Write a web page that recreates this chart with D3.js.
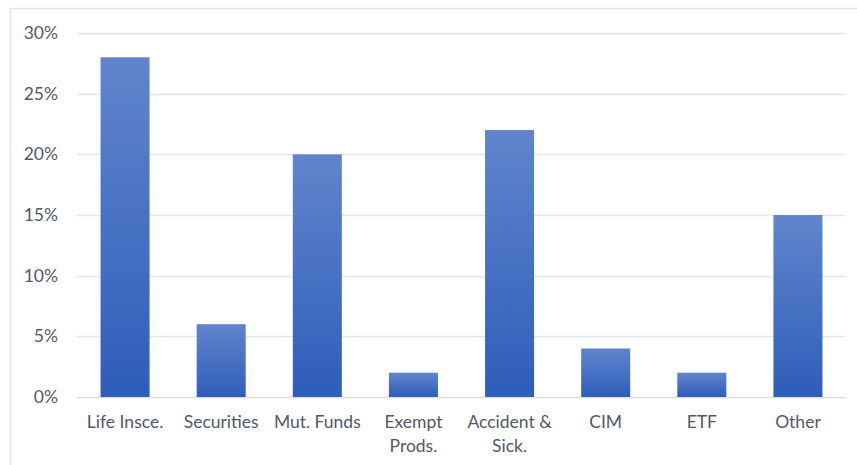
<!DOCTYPE html>
<html>
<head>
<meta charset="utf-8">
<script src="https://cdn.jsdelivr.net/npm/d3@7"></script>
<style>
  body { margin: 0; background: #fff; }
  text { font-family: Lato, "Open Sans", sans-serif; fill: #4f5a6b; }
</style>
</head>
<body>
<div class="chart"></div>
<script>
// data
const categories = ["Life Insce.", "Securities", "Mut. Funds", "Exempt Prods.",
                    "Accident & Sick.", "CIM", "ETF", "Other"];
const shares = [28, 6, 20, 2, 22, 4, 2, 15];
const yTicks = [0, 5, 10, 15, 20, 25, 30];

const W = 857, H = 465;
const margin = { top: 33, right: 11, bottom: 68, left: 77 };

const svg = d3.select(".chart").append("svg")
    .attr("width", W)
    .attr("height", H);

// chart frame (only left/top edges visible)
svg.append("rect")
    .attr("x", 10.5).attr("y", 8.5)
    .attr("width", W + 20).attr("height", H + 20)
    .attr("fill", "none")
    .attr("stroke", "#dfe2e7")
    .attr("stroke-width", 1.5);

const defs = svg.append("defs");
const grad = defs.append("linearGradient")
    .attr("id", "barGrad")
    .attr("x1", 0).attr("y1", 0).attr("x2", 0).attr("y2", 1);
grad.append("stop").attr("offset", "0%").attr("stop-color", "#6185cc");
grad.append("stop").attr("offset", "100%").attr("stop-color", "#2e5dba");

const x = d3.scaleBand()
    .domain(categories)
    .range([margin.left, W - margin.right])
    .paddingInner(0.49)
    .paddingOuter(0.245);

const y = d3.scaleLinear()
    .domain([0, 30])
    .range([H - margin.bottom, margin.top]);

// gridlines
svg.append("g")
  .selectAll("line")
  .data(yTicks)
  .enter()
  .append("line")
    .attr("x1", margin.left)
    .attr("x2", W - margin.right)
    .attr("y1", d => Math.round(y(d)) + 0.5)
    .attr("y2", d => Math.round(y(d)) + 0.5)
    .attr("stroke", d => d === 0 ? "#d9dde3" : "#e3e6ea")
    .attr("stroke-width", 1.5);

// y axis labels
const yAxis = d3.axisLeft(y)
    .tickValues(yTicks)
    .tickFormat(d => d + "%")
    .tickSize(0)
    .tickPadding(19);

svg.append("g")
    .attr("transform", "translate(" + margin.left + ",0)")
    .call(yAxis)
    .call(g => g.select(".domain").remove())
    .selectAll("text")
    .style("font-size", "17.5px")
    .attr("fill", "#4d586a");

// bars
svg.selectAll(".bar")
   .data(shares)
   .enter()
   .append("rect")
   .attr("class", "bar")
   .attr("x", (d, i) => x(categories[i]))
   .attr("width", x.bandwidth())
   .attr("y", d => y(d))
   .attr("height", d => y(0) - y(d))
   .attr("fill", "url(#barGrad)");

// x axis labels, wrapped to the band width
const xAxis = d3.axisBottom(x).tickSize(0).tickPadding(19);
const xg = svg.append("g")
    .attr("transform", "translate(0," + y(0) + ")")
    .call(xAxis);
xg.select(".domain").remove();
xg.selectAll("text")
  .style("font-size", "17.5px")
  .attr("fill", "#4d586a")
  .each(function(d) {
      const t = d3.select(this);
      const maxW = x.step() - 2;
      const words = d.split(" ");
      t.text(null);
      let line = [];
      let tspan = t.append("tspan").attr("x", 0).attr("dy", "0.71em");
      words.forEach(wd => {
          line.push(wd);
          tspan.text(line.join(" "));
          if (tspan.node().getComputedTextLength() > maxW && line.length > 1) {
              line.pop();
              tspan.text(line.join(" "));
              line = [wd];
              tspan = t.append("tspan").attr("x", 0).attr("dy", "1.35em").text(wd);
          }
      });
  });
</script>
</body>
</html>
